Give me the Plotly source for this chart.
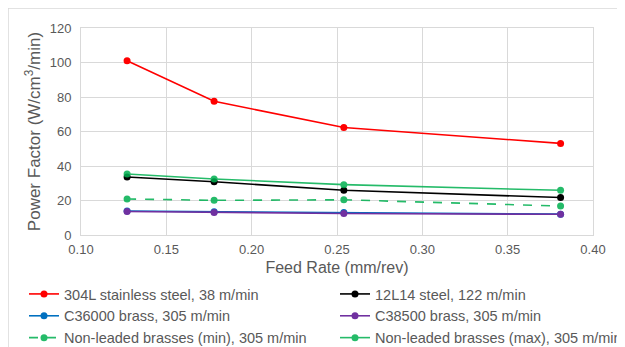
import plotly.graph_objects as go

feed_rate = [0.127, 0.178, 0.254, 0.381]
s304L = [101, 77.5, 62.3, 53.1]
s12L14 = [33.6, 30.9, 25.9, 21.7]
c36000 = [13.9, 13.5, 13.1, 12.1]
c38500 = [13.6, 13.1, 12.5, 12.0]
nlb_min = [20.9, 20.1, 20.4, 16.8]
nlb_max = [35.4, 32.5, 29.2, 25.9]

# (name, values, colour, dash, legend column)
series = [
    ("304L stainless steel, 38 m/min", s304L, "#FF0000", "solid", "legend"),
    ("12L14 steel, 122 m/min", s12L14, "#000000", "solid", "legend2"),
    ("C36000 brass, 305 m/min", c36000, "#0070C0", "solid", "legend"),
    ("C38500 brass, 305 m/min", c38500, "#7030A0", "solid", "legend2"),
    ("Non-leaded brasses (min), 305 m/min", nlb_min, "#00B050", "dash", "legend"),
    ("Non-leaded brasses (max), 305 m/min", nlb_max, "#00B050", "solid", "legend2"),
]

fig = go.Figure()
for name, vals, color, dash, leg in series:
    fig.add_trace(go.Scatter(
        x=feed_rate, y=vals, name=name, mode="lines+markers",
        line=dict(color=color, width=1.6, dash=dash),
        marker=dict(color=color, size=7),
        opacity=0.85 if color == "#00B050" else 1,
        legend=leg,
    ))

grid = "#D9D9D9"
txt = "#595959"
# figure coordinates (the page adds an 8px body margin)
L, B, PW, PH = 73, 227, 512, 207
leg_common = dict(
    orientation="v", xanchor="left", yanchor="top",
    y=(B - 270) / PH, font=dict(size=14.5, color=txt), itemwidth=30,
    bgcolor="rgba(0,0,0,0)", tracegroupgap=0,
)
fig.update_layout(
    width=617, height=339,
    margin=dict(l=73, r=32, t=20, b=112, autoexpand=False),
    paper_bgcolor="white", plot_bgcolor="white",
    font=dict(family="Liberation Sans, Arial, sans-serif", color=txt, size=13),
    showlegend=True,
    legend=dict(x=(16 - L) / PW, **leg_common),
    legend2=dict(x=(327 - L) / PW, **leg_common),
    xaxis=dict(
        range=[0.10, 0.40], dtick=0.05, tickformat=".2f", automargin=False,
        showgrid=True, gridcolor=grid, gridwidth=1,
        showline=True, linecolor=grid, mirror=True, zeroline=False,
        ticks="", tickfont=dict(size=13, color=txt), ticklabelstandoff=2,
        title=dict(text="Feed Rate (mm/rev)", font=dict(size=16, color=txt), standoff=6),
    ),
    yaxis=dict(
        range=[0, 120], dtick=20, automargin=False,
        showgrid=True, gridcolor=grid, gridwidth=1,
        showline=True, linecolor=grid, mirror=True, zeroline=False,
        ticks="", tickfont=dict(size=13, color=txt), ticklabelstandoff=6,
        title=dict(text="Power Factor (W/cm<sup>3</sup>/min)", font=dict(size=17, color=txt), standoff=4),
    ),
    shapes=[dict(
        type="rect", xref="paper", yref="paper",
        x0=(0 - L) / PW, x1=(640 - L) / PW,
        y0=(B - 360) / PH, y1=(B - 0) / PH,
        line=dict(color="#D9D9D9", width=1.5), layer="below",
    )],
)

fig.write_html("out.html")
